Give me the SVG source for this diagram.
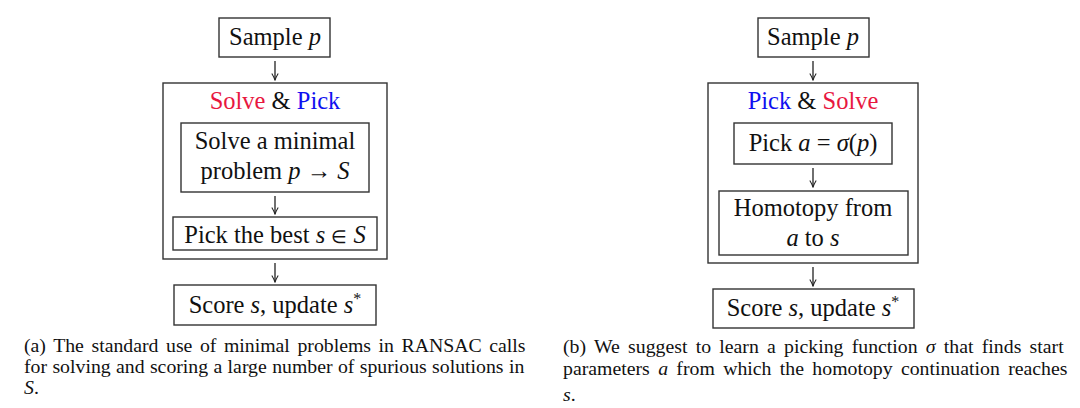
<svg xmlns="http://www.w3.org/2000/svg" width="1080" height="408" viewBox="0 0 1080 408">
<defs>
<style>
.box{fill:#fff;stroke:#333;stroke-width:1.4}
.t{font-family:"Liberation Serif","Times New Roman",serif;font-size:24.5px;fill:#111;text-anchor:middle}
.m{font-style:italic}
.cap{font-family:"Liberation Serif","Times New Roman",serif;font-size:19.8px;fill:#111}
.red{fill:#e8173f}
.blue{fill:#1010f0}
.arr{stroke:#222;stroke-width:1.3;fill:none}
</style>
<marker id="ah" viewBox="0 0 10 10" refX="9" refY="5" markerWidth="8" markerHeight="8" markerUnits="userSpaceOnUse" orient="auto">
<path d="M1,1 Q6,4 9,5 Q6,6 1,9" fill="none" stroke="#222" stroke-width="1.3"/>
</marker>
</defs>
<rect width="1080" height="408" fill="#fff"/>

<g id="a-sample">
<rect class="box" x="219" y="18" width="111" height="39"/>
<text class="t" x="275" y="45">Sample <tspan class="m">p</tspan></text>
</g>
<g id="a-solvepick">
<rect class="box" x="163" y="83" width="224" height="176"/>
<text class="t" x="275" y="109"><tspan class="red">Solve</tspan> &amp; <tspan class="blue">Pick</tspan></text>
</g>
<g id="a-solve">
<rect class="box" x="181" y="123" width="188" height="69"/>
<text class="t" x="275" y="149">Solve a minimal</text>
<text class="t" x="275" y="179">problem <tspan class="m">p</tspan> → <tspan class="m">S</tspan></text>
</g>
<g id="a-pick">
<rect class="box" x="173" y="217" width="204" height="33"/>
<text class="t" x="275" y="243">Pick the best <tspan class="m">s</tspan> <tspan font-size="18">∈</tspan> <tspan class="m">S</tspan></text>
</g>
<g id="a-score">
<rect class="box" x="174" y="285" width="202" height="40"/>
<text class="t" x="275" y="313">Score <tspan class="m">s</tspan>, update <tspan class="m">s</tspan><tspan font-size="16" dy="-9">*</tspan></text>
</g>

<g id="b-sample">
<rect class="box" x="758" y="18" width="111" height="39"/>
<text class="t" x="813" y="45">Sample <tspan class="m">p</tspan></text>
</g>
<g id="b-picksolve">
<rect class="box" x="708" y="83" width="210" height="180"/>
<text class="t" x="813" y="109"><tspan class="blue">Pick</tspan> &amp; <tspan class="red">Solve</tspan></text>
</g>
<g id="b-pick">
<rect class="box" x="734" y="123" width="158" height="41"/>
<text class="t" x="813" y="151">Pick <tspan class="m">a</tspan> = <tspan class="m">σ</tspan>(<tspan class="m">p</tspan>)</text>
</g>
<g id="b-homotopy">
<rect class="box" x="719" y="191" width="189" height="64"/>
<text class="t" x="813" y="216">Homotopy from</text>
<text class="t" x="813" y="246"><tspan class="m">a</tspan> to <tspan class="m">s</tspan></text>
</g>
<g id="b-score">
<rect class="box" x="713" y="289" width="201" height="39"/>
<text class="t" x="813" y="316">Score <tspan class="m">s</tspan>, update <tspan class="m">s</tspan><tspan font-size="16" dy="-9">*</tspan></text>
</g>

<g id="connectors">
<line class="arr" x1="275" y1="61" x2="275" y2="80" marker-end="url(#ah)"/>
<line class="arr" x1="275" y1="196" x2="275" y2="214" marker-end="url(#ah)"/>
<line class="arr" x1="275" y1="263" x2="275" y2="282" marker-end="url(#ah)"/>
<line class="arr" x1="813" y1="61" x2="813" y2="80" marker-end="url(#ah)"/>
<line class="arr" x1="813" y1="168" x2="813" y2="187" marker-end="url(#ah)"/>
<line class="arr" x1="813" y1="267" x2="813" y2="286" marker-end="url(#ah)"/>
</g>

<g id="captions">
<text class="cap" x="24" y="352" word-spacing="2.6">(a) The standard use of minimal problems in RANSAC calls</text>
<text class="cap" x="24" y="373" word-spacing="0.4">for solving and scoring a large number of spurious solutions in</text>
<text class="cap" x="24" y="394"><tspan class="m">S</tspan>.</text>
<text class="cap" x="563" y="353" word-spacing="3.3">(b) We suggest to learn a picking function <tspan class="m">σ</tspan> that finds start</text>
<text class="cap" x="563" y="375" word-spacing="3.4">parameters <tspan class="m">a</tspan> from which the homotopy continuation reaches</text>
<text class="cap" x="563" y="401"><tspan class="m">s</tspan>.</text>
</g>
</svg>
